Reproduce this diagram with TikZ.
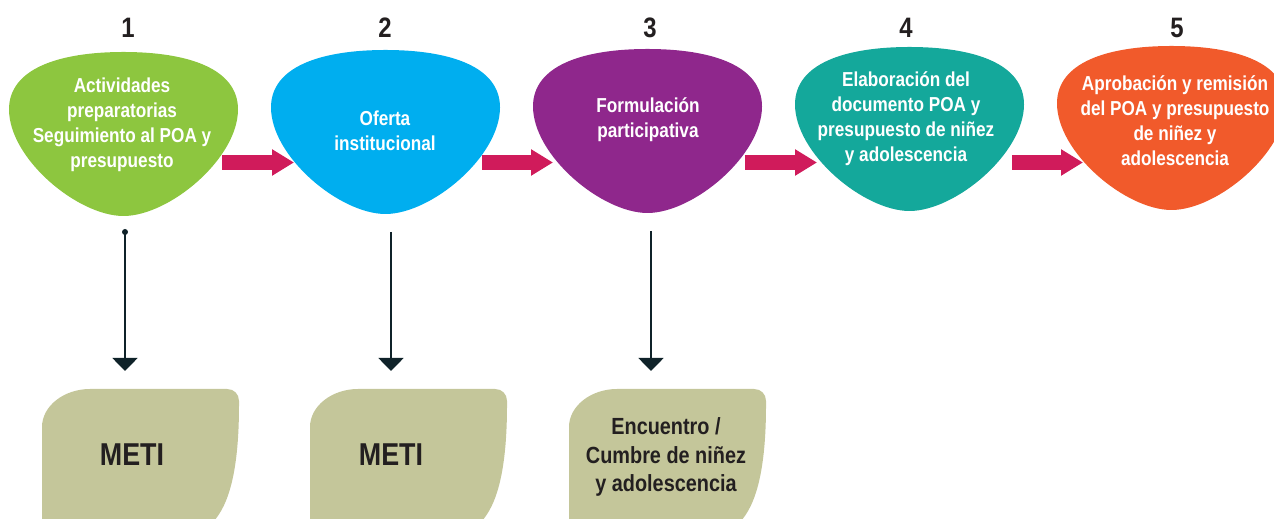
\documentclass[tikz,border=0pt]{standalone}
\usepackage{fontspec}
\setmainfont{Liberation Sans}[FakeStretch=0.85]
\usepackage{tikz}
\usetikzlibrary{arrows.meta,positioning}

\definecolor{stepgreen}{HTML}{8DC63F}
\definecolor{stepblue}{HTML}{00AEEF}
\definecolor{steppurple}{HTML}{8F278C}
\definecolor{stepteal}{HTML}{14A89B}
\definecolor{steporange}{HTML}{F15A2B}
\definecolor{flowpink}{HTML}{D01B5B}
\definecolor{boxkhaki}{HTML}{C4C69A}
\definecolor{darkline}{HTML}{0F2229}
\definecolor{inkdark}{HTML}{231F20}

\begin{document}
\begin{tikzpicture}[
    x=0.02cm, y=-0.02cm,
    drop/.pic={\path[pic actions] (114.5,164) .. controls (68.7,164) and (0,106.6) .. (0,57.4)
        .. controls (0,16.4) and (50.4,0) .. (114.5,0) .. controls (178.6,0) and (229,16.4) .. (229,57.4)
        .. controls (229,106.6) and (160.3,164) .. cycle;},
    leaf/.pic={\path[pic actions] (0,140) -- (0,38) .. controls (0,17) and (22,0) .. (48,0) -- (185,0)
        .. controls (192,0) and (197,5) .. (197,12) -- (197,16) .. controls (197,81) and (187,116) .. (171,133) -- cycle;},
    stepnum/.style={font=\bfseries\fontsize{16}{18}\selectfont, text=inkdark},
    steptext/.style={align=center, text=white, font=\bfseries\fontsize{11.5}{14.2}\selectfont},
    boxtext/.style={align=center, text=inkdark, font=\bfseries\fontsize{13.3}{16}\selectfont},
    metitext/.style={text=inkdark, font=\bfseries\fontsize{18}{20}\selectfont},
    flow/.style={line width=0.31cm, flowpink, -{Triangle[length=0.44cm, width=0.5cm]}},
    feed/.style={line width=0.035cm, darkline, -{Triangle[length=0.26cm, width=0.5cm]}}
]
    \clip (0,0) rectangle (1274,519);

    % step shapes
    \pic[fill=stepgreen] at (9,52) {drop};
    \pic[fill=stepblue] at (271,50) {drop};
    \pic[fill=steppurple] at (533,49) {drop};
    \pic[fill=stepteal] at (795,47) {drop};
    \pic[fill=steporange] at (1057,46) {drop};

    \node[stepnum] (n1) at (128,28) {1};
    \node[stepnum] (n2) at (385,28) {2};
    \node[stepnum] (n3) at (650,28) {3};
    \node[stepnum] (n4) at (906,28) {4};
    \node[stepnum] (n5) at (1177,28) {5};

    \node[steptext] (s1) at (122,125) {Actividades\\preparatorias\\Seguimiento al POA y\\presupuesto};
    \node[steptext] (s2) at (385,131) {Oferta\\institucional};
    \node[steptext] (s3) at (648,120) {Formulación\\participativa};
    \node[steptext] (s4) at (906,119) {Elaboración del\\documento POA y\\presupuesto de niñez\\y adolescencia};
    \node[steptext] (s5) at (1175,121) {Aprobación y remisión\\del POA y presupuesto\\de niñez y\\adolescencia};

    % bottom boxes
    \pic[fill=boxkhaki] at (42,389) {leaf};
    \pic[fill=boxkhaki] at (310,389) {leaf};
    \pic[fill=boxkhaki] at (569,389) {leaf};

    \node[metitext] (b1) at (132,455) {METI};
    \node[metitext] (b2) at (391,455) {METI};
    \node[boxtext] (b3) at (666,457) {Encuentro /\\Cumbre de niñez\\y adolescencia};

    % connectors
    \coordinate (s1-out) at (222,162.5);
    \coordinate (s2-in) at (294,162.5);
    \coordinate (s2-out) at (482,162.5);
    \coordinate (s3-in) at (553,162.5);
    \coordinate (s3-out) at (745,162.5);
    \coordinate (s4-in) at (817,162.5);
    \coordinate (s4-out) at (1012,162.5);
    \coordinate (s5-in) at (1083,162.5);
    \draw[flow] (s1-out) -- (s2-in);
    \draw[flow] (s2-out) -- (s3-in);
    \draw[flow] (s3-out) -- (s4-in);
    \draw[flow] (s4-out) -- (s5-in);

    \coordinate (s1-foot) at (125,232);
    \coordinate (s2-foot) at (391,232);
    \coordinate (s3-foot) at (651,231);
    \coordinate (b1-top) at (125,371);
    \coordinate (b2-top) at (391,371);
    \coordinate (b3-top) at (651,371);
    \fill[darkline] (s1-foot) circle (3);
    \draw[feed] (s1-foot) -- (b1-top);
    \draw[feed] (s2-foot) -- (b2-top);
    \draw[feed] (s3-foot) -- (b3-top);
\end{tikzpicture}
\end{document}
